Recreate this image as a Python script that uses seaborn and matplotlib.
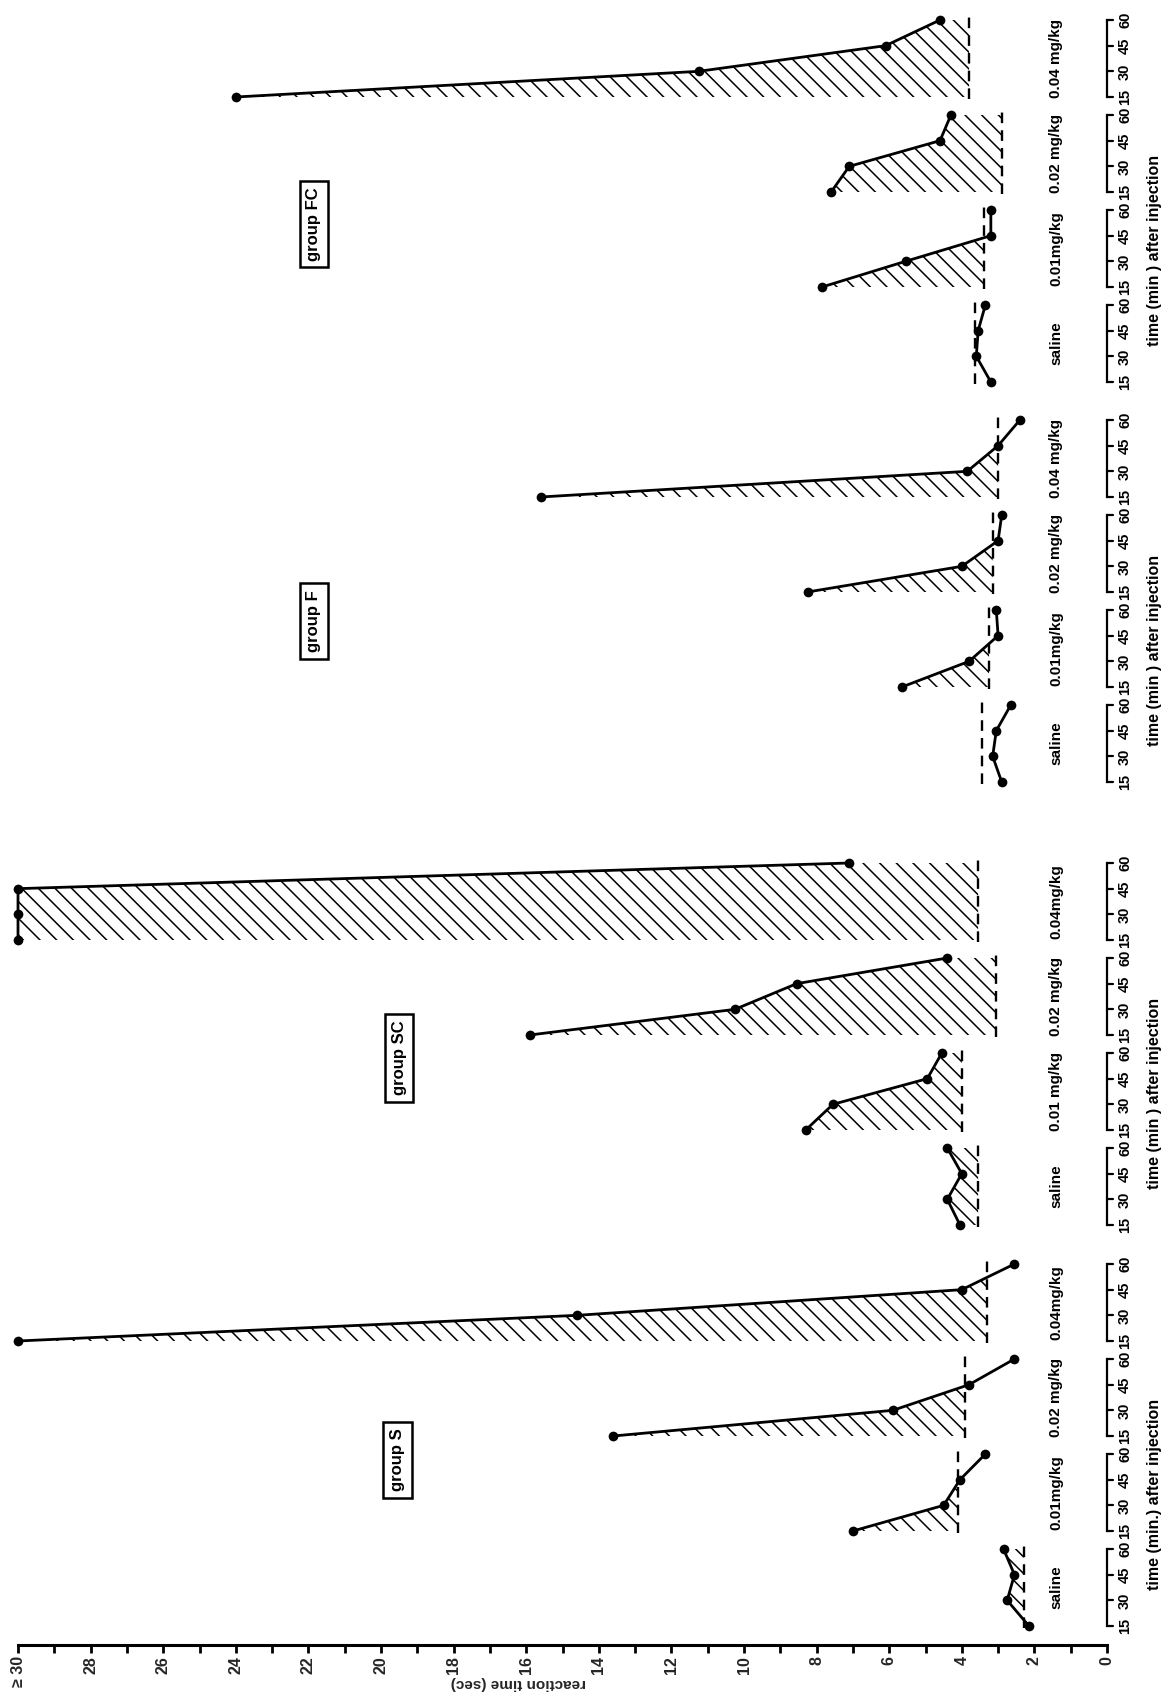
import numpy as np
import pandas as pd
import matplotlib
matplotlib.use("Agg")
import matplotlib.pyplot as plt
import seaborn as sns

# ---------------------------------------------------------------- data
times = [15, 30, 45, 60]
time_labels = ["15", "30", "45", "60"]
groups = ["S", "SC", "F", "FC"]
group_titles = ["group S", "group SC", "group F", "group FC"]
dose_names = ["saline", "0.01", "0.02", "0.04"]

dose_labels = {
    "S": ["saline", "0.01mg/kg", "0.02 mg/kg", "0.04mg/kg"],
    "SC": ["saline", "0.01 mg/kg", "0.02 mg/kg", "0.04mg/kg"],
    "F": ["saline", "0.01mg/kg", "0.02 mg/kg", "0.04 mg/kg"],
    "FC": ["saline", "0.01mg/kg", "0.02 mg/kg", "0.04 mg/kg"],
}
time_titles = {
    "S": "time (min.) after injection",
    "SC": "time (min ) after injection",
    "F": "time (min ) after injection",
    "FC": "time (min ) after injection",
}

# reaction time (sec) at 15, 30, 45, 60 min, one row per dose
rt_S = [[2.15, 2.75, 2.55, 2.85],
        [7.0, 4.5, 4.05, 3.35],
        [13.6, 5.9, 3.8, 2.55],
        [30.0, 14.6, 4.0, 2.55]]
rt_SC = [[4.05, 4.4, 4.0, 4.4],
         [8.3, 7.55, 4.95, 4.55],
         [15.9, 10.25, 8.55, 4.4],
         [30.0, 30.0, 30.0, 7.1]]
rt_F = [[2.9, 3.15, 3.05, 2.65],
        [5.65, 3.8, 3.0, 3.05],
        [8.25, 4.0, 3.0, 2.9],
        [15.6, 3.85, 3.0, 2.4]]
rt_FC = [[3.2, 3.6, 3.55, 3.35],
         [7.85, 5.55, 3.2, 3.2],
         [7.6, 7.1, 4.6, 4.3],
         [24.0, 11.25, 6.1, 4.6]]

# pre-injection baseline (dashed line) per dose
base_S = [2.3, 4.1, 3.9, 3.3]
base_SC = [3.55, 4.0, 3.05, 3.55]
base_F = [3.45, 3.25, 3.15, 3.0]
base_FC = [3.65, 3.4, 2.9, 3.8]

rt_data = {"S": rt_S, "SC": rt_SC, "F": rt_F, "FC": rt_FC}
base_data = {"S": base_S, "SC": base_SC, "F": base_F, "FC": base_FC}

rt_major = list(range(0, 31, 2))
rt_major_labels = [str(v) for v in rt_major[:-1]] + ["\u2265 30"]
rt_minor = list(range(1, 30, 2))

# ---------------------------------------------------------------- layout
W, H, DPI = 1162, 1694, 100
axis_row = 1645            # pixel row of the reaction-time axis
zero_col = 1107            # pixel column of 0 sec
px_per_sec = 36.3
group_start = {"S": 1626, "SC": 1225, "F": 782, "FC": 382}   # row of 15 min, saline
group_box = {"S": (19.55, 1460), "SC": (19.5, 1058), "F": (21.85, 621), "FC": (21.85, 224)}
dose_step = 95
px_per_min = 77 / 45


def row_of(group, d, t):
    return group_start[group] - d * dose_step - (t - 15) * px_per_min


sns.set_style("white")
plt.rcParams["font.family"] = ["Liberation Sans", "DejaVu Sans"]
plt.rcParams["hatch.linewidth"] = 1.1
plt.rcParams["hatch.color"] = "black"

fig = plt.figure(figsize=(W / DPI, H / DPI), dpi=DPI)
ax = fig.add_axes([0, (H - axis_row) / H, 1, axis_row / H])

rows = []
for g in groups:
    for d, dn in enumerate(dose_names):
        for t, v in zip(times, rt_data[g][d]):
            rows.append({"group": g, "dose": dn, "panel": f"{g}-{dn}",
                         "time": t, "rt": v, "row": row_of(g, d, t)})
df = pd.DataFrame(rows)

# hatched area above baseline and dashed baseline
for g in groups:
    for d, dn in enumerate(dose_names):
        sub = df[df["panel"] == f"{g}-{dn}"]
        y = sub["row"].to_numpy()
        x = sub["rt"].to_numpy()
        b = base_data[g][d]
        ax.fill_betweenx(y, b, x, where=x >= b, interpolate=True,
                         facecolor="none", edgecolor="black", hatch="\\\\",
                         linewidth=0)
        ax.plot([b, b], [y[0] + 2, y[-1] - 3], color="black", lw=1.7,
                dashes=(4.5, 3), solid_capstyle="butt")

# response curves
sns.lineplot(data=df, x="rt", y="row", units="panel", estimator=None,
             sort=False, color="black", lw=2.0, marker="o", markersize=7,
             markeredgewidth=0, ax=ax, legend=False)

# time brackets, dose labels and group labels
txt = dict(rotation=90, ha="center", va="center", fontweight="bold",
           color="black", clip_on=False)
for g, title in zip(groups, group_titles):
    for d in range(len(dose_names)):
        y15 = row_of(g, d, 15)
        y60 = row_of(g, d, 60)
        ax.plot([0, 0], [y15, y60], color="black", lw=1.6,
                solid_capstyle="projecting")
        for t, lbl in zip(times, time_labels):
            yt = row_of(g, d, t)
            ax.plot([0, -0.17], [yt, yt], color="black", lw=1.6)
            ax.text(-0.5, yt, lbl, fontsize=10.5, **txt)
        ax.text(1.4, (y15 + y60) / 2, dose_labels[g][d], fontsize=11, **txt)
    ax.text(-1.3, group_start[g] - 132, time_titles[g], fontsize=11.5, **txt)
    bx, by = group_box[g]
    ax.text(bx, by, title, fontsize=12,
            bbox=dict(boxstyle="square,pad=0.4", fc="white", ec="black",
                      lw=1.8), **txt)

# reaction-time axis
ax.set_xlim(zero_col / px_per_sec, (zero_col - W) / px_per_sec)
ax.set_ylim(axis_row, 0)
for s in ["top", "left", "right"]:
    ax.spines[s].set_visible(False)
ax.spines["bottom"].set_bounds(0, 30)
ax.spines["bottom"].set_linewidth(2.2)
ax.spines["bottom"].set_color("black")
ax.set_xticks(rt_major)
ax.set_xticklabels(rt_major_labels)
ax.set_xticks(rt_minor, minor=True)
ax.tick_params(axis="x", which="both", direction="out", length=6, width=2,
               color="black", bottom=True, labelsize=11.5, labelrotation=90,
               pad=2)
for lbl in ax.get_xticklabels():
    lbl.set_fontweight("bold")
ax.set_yticks([])
ax.set_ylabel("")
ax.set_xlabel("reaction time (sec)", rotation=180, fontsize=11,
              fontweight="bold")
ax.xaxis.set_label_coords(518 / W, -(1676 - axis_row) / axis_row)
ax.set_facecolor("white")

fig.savefig("out.png", dpi=DPI, facecolor="white")
